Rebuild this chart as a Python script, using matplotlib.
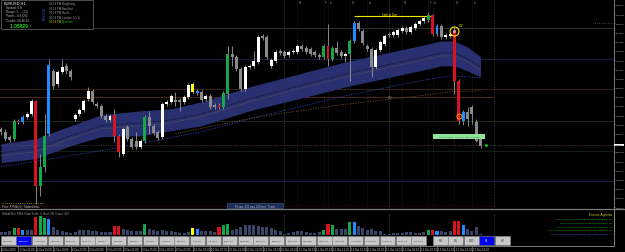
import numpy as np
import matplotlib
matplotlib.use('Agg')
import matplotlib.pyplot as plt
from matplotlib.patches import Rectangle
from matplotlib.transforms import blended_transform_factory

plt.rcParams['font.family'] = ['Liberation Sans', 'DejaVu Sans']

# EURUSD H1 candles, 6 Oct 07:00 -> 12 Oct 21:00
opens = [1.0599, 1.0596, 1.0591, 1.0589, 1.0607, 1.0606, 1.0611, 1.0614, 1.0627, 1.0542,
         1.0561, 1.0594, 1.0657, 1.0644, 1.0656, 1.0662, 1.0657, 1.0609, 1.0614, 1.0618,
         1.0629, 1.0637, 1.0624, 1.0622, 1.0612, 1.0608, 1.0613, 1.0592, 1.0574, 1.0601,
         1.0589, 1.0587, 1.0581, 1.0587, 1.0611, 1.0602, 1.0596, 1.0591, 1.0624, 1.0626,
         1.0628, 1.0628, 1.0626, 1.0631, 1.0636, 1.0635, 1.0636, 1.0629, 1.0632, 1.0623,
         1.0623, 1.0621, 1.0634, 1.0674, 1.0671, 1.0659, 1.0639, 1.0661, 1.0662, 1.0666,
         1.0692, 1.0691, 1.0662, 1.0667, 1.0677, 1.0676, 1.0673, 1.0676, 1.0676, 1.0682,
         1.0680, 1.0679, 1.0676, 1.0673, 1.0671, 1.0682, 1.0669, 1.0680, 1.0676, 1.0672,
         1.0674, 1.0687, 1.0705, 1.0697, 1.0682, 1.0679, 1.0661, 1.0678, 1.0684, 1.0694,
         1.0693, 1.0693, 1.0697, 1.0700, 1.0696, 1.0700, 1.0704, 1.0707, 1.0708, 1.0713,
         1.0694, 1.0702, 1.0691, 1.0692, 1.0696, 1.0647, 1.0607, 1.0616, 1.0621, 1.0606, 1.0589]
highs = [1.0601, 1.0599, 1.0593, 1.0609, 1.0609, 1.0613, 1.0616, 1.0629, 1.0628, 1.0574,
         1.0614, 1.0669, 1.0659, 1.0658, 1.0669, 1.0665, 1.0659, 1.0615, 1.0620, 1.0629,
         1.0641, 1.0639, 1.0626, 1.0624, 1.0614, 1.0614, 1.0619, 1.0594, 1.0601, 1.0603,
         1.0591, 1.0596, 1.0589, 1.0613, 1.0617, 1.0604, 1.0598, 1.0626, 1.0628, 1.0634,
         1.0636, 1.0630, 1.0633, 1.0645, 1.0646, 1.0639, 1.0638, 1.0634, 1.0634, 1.0625,
         1.0625, 1.0637, 1.0682, 1.0682, 1.0673, 1.0661, 1.0663, 1.0664, 1.0677, 1.0693,
         1.0694, 1.0693, 1.0670, 1.0678, 1.0679, 1.0678, 1.0678, 1.0679, 1.0684, 1.0684,
         1.0682, 1.0681, 1.0678, 1.0675, 1.0684, 1.0704, 1.0682, 1.0687, 1.0678, 1.0676,
         1.0689, 1.0707, 1.0707, 1.0699, 1.0684, 1.0681, 1.0680, 1.0688, 1.0694, 1.0696,
         1.0698, 1.0700, 1.0702, 1.0702, 1.0703, 1.0706, 1.0709, 1.0712, 1.0716, 1.0714,
         1.0704, 1.0704, 1.0695, 1.0696, 1.0701, 1.0649, 1.0618, 1.0621, 1.0623, 1.0609, 1.0591]
lows = [1.0593, 1.0587, 1.0586, 1.0587, 1.0604, 1.0604, 1.0609, 1.0612, 1.0524, 1.0532,
        1.0556, 1.0592, 1.0639, 1.0641, 1.0654, 1.0654, 1.0648, 1.0607, 1.0612, 1.0616,
        1.0627, 1.0624, 1.0620, 1.0610, 1.0606, 1.0606, 1.0586, 1.0571, 1.0572, 1.0587,
        1.0579, 1.0579, 1.0579, 1.0585, 1.0594, 1.0593, 1.0588, 1.0589, 1.0622, 1.0624,
        1.0622, 1.0617, 1.0624, 1.0629, 1.0634, 1.0633, 1.0626, 1.0627, 1.0619, 1.0619,
        1.0619, 1.0619, 1.0629, 1.0662, 1.0657, 1.0637, 1.0637, 1.0659, 1.0660, 1.0664,
        1.0688, 1.0669, 1.0660, 1.0665, 1.0673, 1.0670, 1.0671, 1.0674, 1.0674, 1.0677,
        1.0674, 1.0672, 1.0671, 1.0669, 1.0669, 1.0662, 1.0667, 1.0673, 1.0670, 1.0666,
        1.0647, 1.0685, 1.0697, 1.0683, 1.0677, 1.0651, 1.0659, 1.0676, 1.0682, 1.0691,
        1.0691, 1.0691, 1.0695, 1.0694, 1.0694, 1.0698, 1.0702, 1.0705, 1.0706, 1.0692,
        1.0692, 1.0689, 1.0689, 1.0690, 1.0634, 1.0604, 1.0603, 1.0602, 1.0604, 1.0586, 1.0580]
closes = [1.0596, 1.0589, 1.0588, 1.0607, 1.0606, 1.0611, 1.0614, 1.0627, 1.0542, 1.0561,
          1.0592, 1.0663, 1.0642, 1.0656, 1.0661, 1.0657, 1.0651, 1.0613, 1.0618, 1.0627,
          1.0637, 1.0626, 1.0622, 1.0612, 1.0608, 1.0612, 1.0592, 1.0576, 1.0599, 1.0589,
          1.0581, 1.0581, 1.0587, 1.0611, 1.0602, 1.0595, 1.0590, 1.0624, 1.0626, 1.0632,
          1.0626, 1.0626, 1.0631, 1.0643, 1.0644, 1.0637, 1.0628, 1.0632, 1.0621, 1.0621,
          1.0621, 1.0635, 1.0674, 1.0671, 1.0659, 1.0639, 1.0661, 1.0662, 1.0667, 1.0691,
          1.0690, 1.0671, 1.0668, 1.0676, 1.0675, 1.0672, 1.0676, 1.0677, 1.0682, 1.0679,
          1.0676, 1.0674, 1.0673, 1.0671, 1.0682, 1.0669, 1.0680, 1.0675, 1.0672, 1.0674,
          1.0687, 1.0705, 1.0699, 1.0685, 1.0679, 1.0661, 1.0678, 1.0686, 1.0692, 1.0693,
          1.0696, 1.0698, 1.0700, 1.0696, 1.0701, 1.0704, 1.0707, 1.0710, 1.0713, 1.0694,
          1.0702, 1.0691, 1.0693, 1.0694, 1.0647, 1.0607, 1.0616, 1.0609, 1.0614, 1.0587, 1.0582]
# g=bear grey, w=bull white, G=green, R=red, B=blue, Y=yellow
candle_codes = ("gggGRBwwRG" "GBgwwggwww" "wggggwRRwg" "ggwGgggwww" "ggwwYBgwgg"
                "RGGgggwwww" "ggwwggwwwg" "ggggGRGggw" "GBggggwwwg" "wwwgwwwwGR" "BgwwRRBgggg")
volumes = [750, 750, 1000, 1750, 1750, 1250, 1250, 1250, 4500, 4750,
           4250, 4000, 2000, 1250, 1000, 750, 500, 750, 1250, 1250,
           1250, 1000, 1000, 750, 750, 750, 2250, 2250, 1500, 1250,
           1000, 1000, 1000, 2750, 1500, 1250, 1000, 1250, 1000, 1000,
           750, 500, 500, 750, 1750, 1500, 1000, 1000, 1000, 750,
           2000, 2500, 2750, 1250, 1500, 2000, 2500, 2500, 2500, 2250,
           2000, 2000, 1750, 1250, 1000, 250, 500, 750, 1000, 1000,
           750, 500, 500, 750, 1250, 2750, 2500, 1500, 1500, 1500,
           3250, 3250, 2250, 1750, 1250, 1500, 1000, 1000, 250, 250,
           500, 500, 500, 750, 750, 500, 500, 750, 1250, 1250,
           1000, 1000, 750, 1000, 3500, 3500, 2500, 1500, 1000, 2000, 250]

# moving-average band
band_idx = [0, 8, 16, 23, 32, 39, 46, 57, 71, 80, 96, 101, 104, 107, 110]
band_upper = [1.0584, 1.0589, 1.0602, 1.0613, 1.0617, 1.0619, 1.0626, 1.0641, 1.0657, 1.0667, 1.0682, 1.0687, 1.0687, 1.0681, 1.0671]
band_lower = [1.0565, 1.0569, 1.0582, 1.0591, 1.0592, 1.0597, 1.0602, 1.0617, 1.0632, 1.0642, 1.0657, 1.0662, 1.0662, 1.0657, 1.0651]
band_mid1 = [1.0575, 1.0579, 1.0592, 1.0602, 1.0605, 1.0608, 1.0614, 1.0629, 1.0645, 1.0655, 1.0670, 1.0675, 1.0675, 1.0669, 1.0661]
band_mid2 = [1.0572, 1.0576, 1.0589, 1.0599, 1.0602, 1.0605, 1.0611, 1.0626, 1.0642, 1.0652, 1.0667, 1.0672, 1.0672, 1.0666, 1.0658]
sma_idx = [0, 23, 46, 59, 78, 96, 103, 110]
sma_slow = [1.0561, 1.0577, 1.0596, 1.0611, 1.0631, 1.0647, 1.0652, 1.0650]
ema_idx = [40, 59, 78, 96, 103, 110]
ema_slow = [1.0594, 1.0611, 1.0623, 1.0632, 1.0636, 1.0637]

levels = [1.0700, 1.0669, 1.0639, 1.0607, 1.0577, 1.0547]
level_colours = ['#383838', '#1a2150', '#3a2818', '#27321a', '#17261a', '#1a2150']
current_price = 1.05829
day_high = 1.0712

price_ticks = [1.07230, 1.07138, 1.07046, 1.06954, 1.06862, 1.06770, 1.06678, 1.06586,
               1.06494, 1.06402, 1.06310, 1.06218, 1.06126, 1.06034, 1.05942, 1.05758,
               1.05666, 1.05574, 1.05482, 1.05390, 1.05298, 1.05206]
time_labels = ['6 Oct 2023', '6 Oct 11:00', '6 Oct 15:00', '6 Oct 19:00', '6 Oct 23:00',
               '9 Oct 03:00', '9 Oct 07:00', '9 Oct 11:00', '9 Oct 15:00', '9 Oct 19:00',
               '9 Oct 23:00', '10 Oct 03:00', '10 Oct 07:00', '10 Oct 11:00', '10 Oct 15:00',
               '10 Oct 19:00', '10 Oct 23:00', '11 Oct 03:00', '11 Oct 07:00', '11 Oct 11:00',
               '11 Oct 15:00', '11 Oct 19:00', '11 Oct 23:00', '12 Oct 03:00', '12 Oct 07:00',
               '12 Oct 11:00', '12 Oct 15:00', '12 Oct 19:00']
day_lines = [65, 89, 113]
session_lines = [68, 74, 75, 80, 84, 92, 98, 99, 104, 108]
session_names = ['M', 'F', 'Lo', 'Ny', 'Lo', 'M', 'F', 'Lo', 'Ny', 'Lo']
symbols = ['GBPUSD', 'EURUSD', 'AUDUSD', 'NZDUSD', 'USDCAD', 'USDCHF', 'USDJPY', 'EURGBP', 'EURJPY',
           'GBPJPY', 'AUDJPY', 'NZDJPY', 'CADJPY', 'CHFJPY', 'EURAUD', 'EURNZD', 'EURCAD', 'EURCHF',
           'GBPAUD', 'GBPNZD', 'GBPCAD', 'GBPCHF', 'AUDNZD', 'AUDCAD', 'AUDCHF', 'NZDCAD', 'XAUUSD']
timeframes = ['M1', 'M5', 'M15', 'H1', 'H4']
events = ['Thu 12 Oct 21:00 USD Federal Budget Balance   [0]',
          'Thu 12 Oct 18:00 USD Crude Oil Inventories   [0]',
          'Fri 13 Oct 09:00 EUR Industrial Production m/m   [0]',
          'Fri 13 Oct 17:00 USD Prelim UoM Consumer Sentiment   [0]',
          'Fri 13 Oct 19:00 USD FOMC Member Harker Speaks   [0]']

body_col = {'g': '#8a8a8a', 'w': '#ffffff', 'G': '#12a84a', 'R': '#d8121e', 'B': '#1e8cff', 'Y': '#ffff00'}
vol_col = {'g': '#3a4466', 'w': '#3a4466', 'G': '#12a84a', 'R': '#d8121e', 'B': '#1e8cff', 'Y': '#ffff00'}

n = len(opens)
x = np.arange(n)
xlim = (-0.23, 140.6)

fig = plt.figure(figsize=(6.25, 2.53), dpi=100, facecolor='black')

# main price window
ax = fig.add_axes([0, 45 / 253, 614 / 625, 208 / 253], facecolor='black')
ax.set_xlim(*xlim)
ax.set_ylim(1.0521, 1.0729)

for lv, lc in zip(levels, level_colours):
    ax.axhline(lv, color=lc, lw=0.6, zorder=0)
ax.hlines([1.0631, 1.0521], -1, 113, colors=['#5a2a20', '#8b1c1c'], lw=[0.6, 1.0], zorder=0)
for d in day_lines:
    ax.axvline(d, color='#404040', lw=0.5, ls=(0, (2, 2)), zorder=0)
for s in session_lines:
    ax.axvline(s, color='#303030', lw=0.5, ls=(0, (1, 2)), zorder=0)

ax.fill_between(band_idx, band_lower, band_upper, color='#283070', lw=0, zorder=1)
ax.plot(band_idx, band_mid1, color='#000000', lw=0.6, ls=':', zorder=1.5)
ax.plot(band_idx, band_mid2, color='#4a4a5e', lw=0.5, zorder=1.5)
ax.plot(sma_idx, sma_slow, color='#2c3cb0', lw=0.6, ls=(0, (1.5, 1.5)), zorder=1.5)
ax.plot(ema_idx, ema_slow, color='#6e4a2a', lw=0.6, ls=(0, (1.5, 1.5)), zorder=1.5)

ax.axhline(current_price, color='#5a5a5a', lw=0.5, ls=(0, (1, 1.5)), zorder=1)
ax.hlines(day_high, 81, 99, color='#e8e800', lw=0.8, zorder=2)

cols = [body_col[c] for c in candle_codes]
bottoms = np.minimum(opens, closes)
heights = np.maximum(np.abs(np.subtract(closes, opens)), 0.00009)
ax.vlines(x, lows, highs, color='#9a9a9a', lw=0.6, zorder=2)
ax.bar(x, heights, bottom=bottoms, width=0.68, color=cols, lw=0, zorder=3)

# signal markers
ax.plot(104, 1.0697, 'o', ms=6.5, mfc='none', mec='#ffe000', mew=0.8, zorder=4)
ax.plot(104, 1.0697, 'o', ms=2.2, mfc='#ff9a9a', mec='none', zorder=4)
ax.plot(105, 1.0612, 'o', ms=3.6, mfc='none', mec='#ffa000', mew=0.7, zorder=4)
ax.plot(105, 1.0612, 'o', ms=1.4, mfc='#ff3030', mec='none', zorder=4)

for sp in ax.spines.values():
    sp.set_visible(False)
ax.spines['right'].set_visible(True)
ax.spines['right'].set_color('#8c8c8c')
ax.spines['right'].set_linewidth(0.6)
ax.yaxis.tick_right()
ax.set_yticks(price_ticks)
ax.set_yticklabels([f'{p:.5f}' for p in price_ticks])
ax.tick_params(axis='y', colors='#8c8c8c', labelcolor='#c8c8c8', labelsize=1.75,
               length=1.0, width=0.4, pad=0.3)
ax.set_xticks([])
ax.text(1.0015, current_price, f'{current_price:.5f}', transform=blended_transform_factory(ax.transAxes, ax.transData),
        fontsize=1.75, color='black', va='center', ha='left',
        bbox=dict(boxstyle='square,pad=0.2', fc='white', ec='none'))

# volume window
vax = fig.add_axes([0, 17 / 253, 614 / 625, 22 / 253], facecolor='black')
vax.set_xlim(*xlim)
vax.set_ylim(0, 5500)
vax.bar(x, volumes, width=0.7, color=[vol_col[c] for c in candle_codes], lw=0)
for d in day_lines:
    vax.axvline(d, color='#404040', lw=0.5, ls=(0, (2, 2)), zorder=0)
for sp in vax.spines.values():
    sp.set_visible(False)
vax.spines['right'].set_visible(True)
vax.spines['right'].set_color('#8c8c8c')
vax.spines['right'].set_linewidth(0.6)
vax.set_xticks([])
vax.set_yticks([])

# overlay in pixel units for the terminal decorations
ov = fig.add_axes([0, 0, 1, 1], facecolor='none')
ov.set_xlim(0, 625)
ov.set_ylim(253, 0)
ov.axis('off')
ov.set_zorder(5)

ov.add_patch(Rectangle((0.5, 0.5), 92, 29, fc='black', ec='#5a5a5a', lw=0.6))
ov.text(4, 3.5, 'EURUSD,H1', fontsize=2.8, color='white', va='center')
for i, t in enumerate(['Spread: 0.8', 'Range: 5 ... (72)', 'Points: -6.6 (20)', 'Candle: 00:46:15']):
    ov.text(6, 8 + 4.2 * i, t, fontsize=2.2, color='#b8b8b8', va='center')
ov.text(10, 26, '1.05829 \u2191', fontsize=3.6, color='#20d020', va='center', fontweight='bold')
ov.text(41.5, 15, 'PUSKA', fontsize=2.8, color='#3050d0', rotation=-90, ha='center', va='center')
for i, t in enumerate(['HongKong', 'Frankfurt', 'Pacific', 'London (U+1)', 'NewYork']):
    ov.text(49, 4 + 4.6 * i, '03:14 PM', fontsize=2.1, color='#c8c800' if i == 4 else '#9a9a9a', va='center')
    ov.text(62, 4 + 4.6 * i, t, fontsize=2.1, color='#20c020' if i == 4 else '#9a9a9a', va='center')

for s, name in zip(session_lines, session_names):
    ov.text(1 + 4.36 * s + 1.5, 3, name, fontsize=1.9, color='#8a8a8a', va='center')
ov.text(382, 14.5, 'high of Day', fontsize=2.1, color='#e8e800', va='center')
ov.text(459, 25.5, 'DM', fontsize=2.1, color='#e8e800', va='center')
ov.text(388, 98, '200', fontsize=1.9, color='#909090', va='center')
ov.plot([593, 612], [23.5, 23.5], color='#6a6a6a', lw=0.5, ls=':')

ov.add_patch(Rectangle((433, 134.5), 52, 5, fc='#8ee39a', ec='none'))
ov.text(459, 137, 'Sell: 1.05829   Spr: 0.8   Buy: 1.05837', fontsize=1.7, color='#305a30', ha='center', va='center')
ov.plot(485.5, 146, 's', ms=0.9, color='#20d020')

ov.add_patch(Rectangle((227, 204.3), 56, 4.6, fc='#1e2a58', ec='#4a5a8a', lw=0.4))
ov.text(255, 206.6, '50 sma, 200 sma, 200 ema  Trends', fontsize=1.8, color='#b0b8d0', ha='center', va='center')
ov.plot([2, 43], [203.5, 203.5], color='#c8a000', lw=0.6, ls=':')
ov.text(2, 206.8, 'Price: PPMA (5): TradersNews', fontsize=2.0, color='#c0c0c0', va='center')

ov.plot([0, 625], [209.6, 209.6], color='#7a7a7a', lw=0.9)
ov.text(2, 213.2, 'Global Bulk PM4: Chart Scale: 4, Next OR: Count: 303', fontsize=2.0, color='#a0a0a0', va='center')

ov.text(612, 215, 'Events Agenda', fontsize=2.4, color='#c8c820', ha='right', va='center')
for i, t in enumerate(events):
    ov.text(612, 219.8 + 3.6 * i, t, fontsize=1.7, color='#4070ff' if i == 4 else '#20d020', ha='right', va='center')

# buttons
for i, sym in enumerate(symbols):
    hi = sym == 'EURUSD'
    ov.add_patch(Rectangle((0.5 + 15.8 * i, 237), 15.0, 8.5, fc='#0000f0' if hi else '#c8c8c8',
                           ec='#8a8a8a', lw=0.4))
    ov.text(8 + 15.8 * i, 241.3, sym, fontsize=1.7, color='white' if hi else '#404040', ha='center', va='center')
for i, tf in enumerate(timeframes):
    hi = tf == 'H1'
    ov.add_patch(Rectangle((433 + 15.4 * i, 237), 15.0, 8.5, fc='#0000f0' if hi else '#c8c8c8',
                           ec='#8a8a8a', lw=0.4))
    ov.text(440.5 + 15.4 * i, 241.3, tf, fontsize=2.0, color='white' if hi else '#404040', ha='center', va='center')

ov.plot([0, 614], [246.6, 246.6], color='#8c8c8c', lw=0.6)
ov.plot([614, 614], [208, 246.6], color='#8c8c8c', lw=0.6)

tt = blended_transform_factory(vax.transData, ov.transData)
for k, lab in enumerate(time_labels):
    ov.plot([4 * k, 4 * k], [247, 252.5], color='#a0a0a0', lw=0.4, transform=tt)
    ov.text(4 * k + 0.25, 250, lab, fontsize=2.0, color='#d0d0d0', va='center', ha='left', transform=tt)

fig.savefig('out.png', dpi=100, facecolor='black')
